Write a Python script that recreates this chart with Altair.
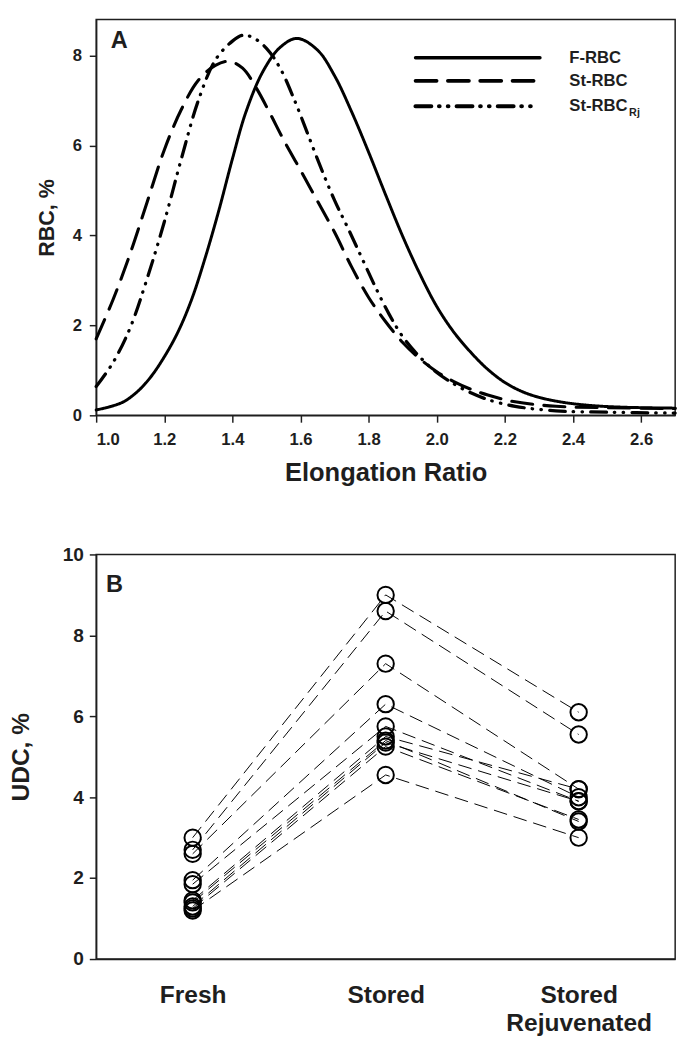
import altair as alt
import pandas as pd

FONT = "Liberation Sans"
INK = "#1e1e1e"

# ---------------- Panel A data ----------------
series_names = ["F-RBC", "St-RBC", "St-RBC_Rj"]

f_x = [1.00, 1.04, 1.08, 1.12, 1.16, 1.20, 1.24, 1.28, 1.32, 1.36, 1.40, 1.44,
       1.49, 1.54, 1.59, 1.65, 1.70, 1.75, 1.80, 1.85, 1.90, 1.95, 2.00, 2.05,
       2.10, 2.15, 2.20, 2.25, 2.30, 2.37, 2.45, 2.55, 2.70]
f_y = [0.12, 0.19, 0.30, 0.52, 0.85, 1.30, 1.85, 2.57, 3.50, 4.55, 5.70, 6.75,
       7.65, 8.18, 8.38, 8.12, 7.55, 6.75, 5.85, 4.90, 3.98, 3.15, 2.42, 1.85,
       1.40, 1.02, 0.73, 0.53, 0.40, 0.29, 0.22, 0.18, 0.16]

st_x = [1.00, 1.05, 1.10, 1.15, 1.20, 1.25, 1.30, 1.35, 1.39, 1.43, 1.47, 1.51,
        1.55, 1.60, 1.65, 1.70, 1.75, 1.80, 1.85, 1.90, 1.95, 2.00, 2.05, 2.10,
        2.15, 2.23, 2.35, 2.50, 2.70]
st_y = [1.70, 2.58, 3.60, 4.75, 5.90, 6.80, 7.45, 7.78, 7.87, 7.72, 7.28, 6.72,
        6.13, 5.45, 4.76, 4.07, 3.30, 2.62, 2.08, 1.62, 1.26, 0.97, 0.75, 0.58,
        0.45, 0.30, 0.20, 0.17, 0.15]

rj_x = [1.00, 1.05, 1.10, 1.15, 1.20, 1.25, 1.30, 1.35, 1.40, 1.43, 1.46, 1.50,
        1.54, 1.58, 1.62, 1.66, 1.70, 1.74, 1.78, 1.82, 1.86, 1.90, 1.95, 2.00,
        2.05, 2.10, 2.15, 2.23, 2.35, 2.50, 2.70]
rj_y = [0.64, 1.18, 1.95, 3.05, 4.30, 5.70, 7.00, 7.90, 8.32, 8.45, 8.40, 8.16,
        7.72, 7.05, 6.28, 5.50, 4.78, 4.15, 3.50, 2.85, 2.25, 1.75, 1.30, 0.95,
        0.70, 0.50, 0.35, 0.20, 0.10, 0.07, 0.05]

x_ticks = [1.0, 1.2, 1.4, 1.6, 1.8, 2.0, 2.2, 2.4, 2.6]
y_ticks_a = [0, 2, 4, 6, 8]

# ---------------- Panel B data ----------------
conditions = ["Fresh", "Stored", "Stored Rejuvenated"]
subjects = list(range(1, 11))
udc_fresh = [3.00, 2.70, 2.60, 1.95, 1.85, 1.45, 1.40, 1.30, 1.25, 1.20]
udc_stored = [9.00, 8.60, 7.30, 6.30, 5.75, 5.50, 5.40, 5.35, 5.25, 4.55]
udc_rejuv = [6.10, 5.55, 4.20, 4.00, 3.90, 4.20, 3.40, 3.90, 3.45, 3.00]
y_ticks_b = [0, 2, 4, 6, 8, 10]

# ---------------- tables ----------------
rows = []
for name, xs, ys in zip(series_names, [f_x, st_x, rj_x], [f_y, st_y, rj_y]):
    for xv, yv in zip(xs, ys):
        rows.append({"series": name, "er": xv, "rbc": yv})
df_a = pd.DataFrame(rows)

rows_b = []
for s, a, b, c in zip(subjects, udc_fresh, udc_stored, udc_rejuv):
    for cond, v in zip(conditions, [a, b, c]):
        rows_b.append({"subject": s, "condition": cond, "udc": v})
df_b = pd.DataFrame(rows_b)

dash_range = [[1, 0], [21.5, 11.5], [16, 8, 0.5, 8.5, 0.5, 8.5]]
width_range = [3, 3.3, 3.8]

W = 591
HA = 404
HB = 413

# ---------------- Panel A ----------------
curves = alt.Chart(df_a).mark_line(
    color="black", strokeCap="round", interpolate="catmull-rom"
).encode(
    x=alt.X("er:Q",
            scale=alt.Scale(domain=[1.0, 2.7], nice=False, zero=False),
            axis=alt.Axis(values=x_ticks, format=".1f", title="Elongation Ratio",
                          labelFontSize=17, labelPadding=10, titleFontSize=26,
                          titlePadding=13)),
    y=alt.Y("rbc:Q",
            scale=alt.Scale(domain=[0, 8.8], nice=False),
            axis=alt.Axis(values=y_ticks_a, format="d", title="RBC, %",
                          labelFontSize=17, labelPadding=8, titleFontSize=22,
                          titlePadding=14)),
    strokeDash=alt.StrokeDash("series:N",
                              scale=alt.Scale(domain=series_names, range=dash_range),
                              legend=None),
    strokeWidth=alt.StrokeWidth("series:N",
                                scale=alt.Scale(domain=series_names, range=width_range),
                                legend=None),
    detail="series:N",
)

label_a = alt.Chart().mark_text(
    text="A", font=FONT, fontWeight="bold", fontSize=24, color=INK,
    align="left", baseline="alphabetic"
).encode(x=alt.value(15), y=alt.value(29))

legend_rows_y = [39, 62.5, 88.5]
legend_ends = [453, 449, 445]
legend_layers = []
for name, dash, sw, ly, lx2 in zip(series_names, dash_range, width_range,
                                   legend_rows_y, legend_ends):
    legend_layers.append(
        alt.Chart().mark_rule(color="black", strokeDash=dash, strokeWidth=sw + 0.5,
                              strokeCap="round")
        .encode(x=alt.value(326), x2=alt.value(lx2), y=alt.value(ly))
    )
    main_text = name.split("_")[0]
    legend_layers.append(
        alt.Chart().mark_text(text=main_text, font=FONT, fontWeight="bold",
                              fontSize=17, color=INK, align="left",
                              baseline="middle")
        .encode(x=alt.value(483), y=alt.value(ly))
    )
legend_layers.append(
    alt.Chart().mark_text(text="Rj", font=FONT, fontWeight="bold", fontSize=11,
                          color=INK, align="left", baseline="middle")
    .encode(x=alt.value(544), y=alt.value(95))
)

panel_a = alt.layer(curves, label_a, *legend_layers).properties(width=W, height=HA)

# ---------------- Panel B ----------------
x_b = alt.X("condition:N", sort=conditions,
            scale=alt.Scale(type="point", padding=0.5),
            axis=alt.Axis(title=None, labelExpr="split(datum.label, ' ')",
                          ticks=False, labelPadding=24, labelFontSize=25,
                          labelLineHeight=29, labelAngle=0))
y_b = alt.Y("udc:Q", scale=alt.Scale(domain=[0, 10], nice=False),
            axis=alt.Axis(values=y_ticks_b, format="d", title="UDC, %",
                          labelFontSize=19.5, labelPadding=6, titleFontSize=25,
                          titlePadding=29))

lines_b = alt.Chart(df_b).mark_line(
    color="black", strokeWidth=1, strokeDash=[14, 7]
).encode(x=x_b, y=y_b, detail="subject:N")

points_b = alt.Chart(df_b).mark_point(
    shape="circle", filled=False, size=280, strokeWidth=2, color="black", opacity=1
).encode(x=x_b, y=y_b)

label_b = alt.Chart().mark_text(
    text="B", font=FONT, fontWeight="bold", fontSize=24, color=INK,
    align="left", baseline="alphabetic"
).encode(x=alt.value(10), y=alt.value(38))

panel_b = alt.layer(lines_b, points_b, label_b).properties(width=W, height=HB)

chart = alt.vconcat(panel_a, panel_b, spacing=58).properties(
    padding=0, background="white"
).configure_view(
    stroke=INK, strokeWidth=1.5
).configure_axis(
    grid=False,
    labelFont=FONT, titleFont=FONT,
    labelFontWeight="bold", titleFontWeight="bold",
    labelColor=INK, titleColor=INK,
    domainColor=INK, domainWidth=1.5,
    tickColor=INK, tickWidth=1.5, tickSize=7,
)

chart.save("out.html", embed_options={"renderer": "svg", "actions": False})
